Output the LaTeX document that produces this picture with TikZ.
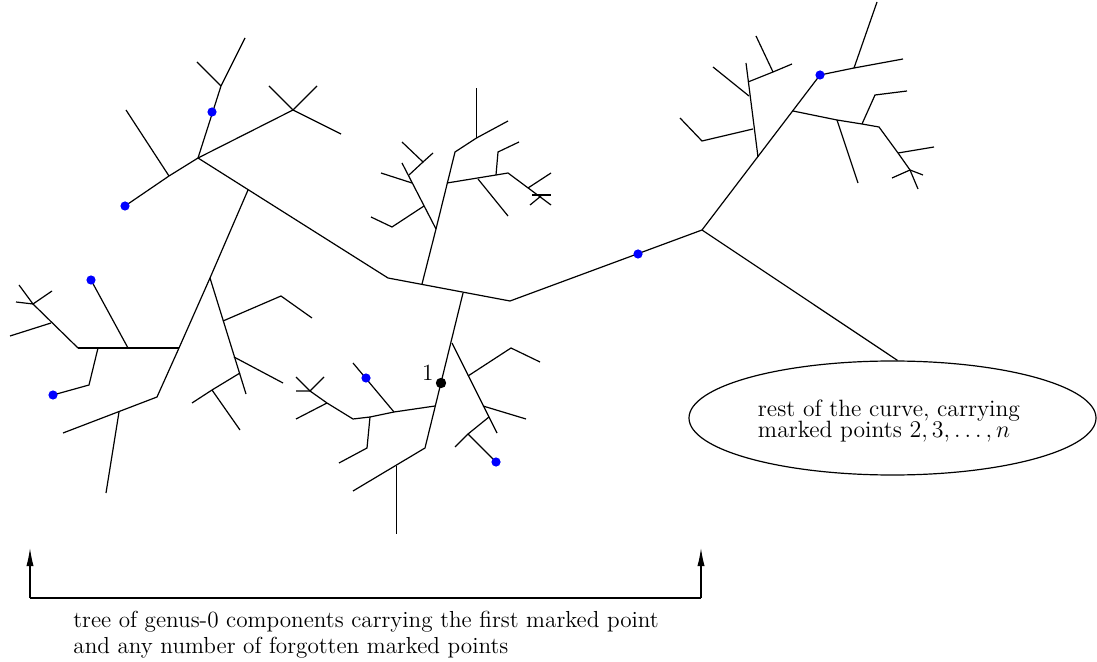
\documentclass[tikz,border=0pt]{standalone}
\usetikzlibrary{shapes.geometric,arrows.meta}
\begin{document}
\begin{tikzpicture}[x=0.5pt,y=-0.5pt,
  branch/.style={line width=0.6pt,line join=miter},
  forgotten/.style={circle,fill=blue,inner sep=0pt,minimum size=4.6pt},
  firstpt/.style={circle,fill=black,inner sep=0pt,minimum size=5.2pt},
  caption/.style={font=\fontsize{11.6}{13}\selectfont,inner sep=0pt},
  bracket/.style={line width=0.6pt,-{Latex[length=9pt,width=3.6pt]}}]
\useasboundingbox (0,0) rectangle (1097,662);

% ---------- spine of the tree ----------
\coordinate (A) at (198,158);
\coordinate (M1) at (388,278);
\coordinate (M2) at (510,301);
\coordinate (R) at (702,230);
\draw[branch] (A) -- (M1) -- (M2) -- (R);

% ---------- upper left cluster ----------
\draw[branch] (A) -- (221,86) -- (245,38);
\draw[branch] (221,86) -- (197,62);
\draw[branch] (A) -- (169,176) -- (125,206);
\draw[branch] (169,176) -- (126,110);
\draw[branch] (A) -- (293,110);
\draw[branch] (269,86) -- (293,110) -- (317,86);
\draw[branch] (293,110) -- (341,134);

% ---------- left cluster ----------
\draw[branch] (248,190) -- (210,278) -- (179,348) -- (157,397) -- (63,433);
\draw[branch] (119,412) -- (106,493);
\draw[branch] (78,348) -- (179,348);
\draw[branch] (128,348) -- (91,280);
\draw[branch] (98,348) -- (89,385) -- (53,395);
\draw[branch] (78,348) -- (33,304) -- (19,285);
\draw[branch] (51,323) -- (10,336);
\draw[branch] (16,302) -- (33,304) -- (52,291);
\draw[branch] (210,278) -- (246,394);
\draw[branch] (223,321) -- (281,296) -- (312,318);
\draw[branch] (234,357) -- (283,383);
\draw[branch] (240,373) -- (212,390) -- (192,403);
\draw[branch] (212,390) -- (240,430);

% ---------- upper middle cluster ----------
\draw[branch] (422,284) -- (436,229) -- (402,163);
\draw[branch] (412,183) -- (381,173);
\draw[branch] (409,175) -- (423,162) -- (402,142);
\draw[branch] (423,162) -- (433,153);
\draw[branch] (424,206) -- (392,227) -- (371,217);
\draw[branch] (436,229) -- (455,152) -- (476.5,138) -- (508,121);
\draw[branch] (476.5,138) -- (476.5,88);
\draw[branch] (447,183) -- (496,175) -- (508,173) -- (551,205);
\draw[branch] (496,175) -- (498,152) -- (519,142);
\draw[branch] (478,179) -- (508,216);
\draw[branch] (528,188) -- (551,173);
\draw[branch] (532,195) -- (551,195);
\draw[branch] (530,205) -- (541,196);

% ---------- right cluster ----------
\draw[branch] (R) -- (820,75) -- (854,68) -- (903,59);
\draw[branch] (854,68) -- (877,2);
\draw[branch] (793,111) -- (837,120) -- (862,124) -- (879,127) -- (898,153) -- (910,170) -- (918,189);
\draw[branch] (837,120) -- (858,183);
\draw[branch] (862,124) -- (875,95) -- (907,91);
\draw[branch] (898,153) -- (934,147);
\draw[branch] (892,178) -- (910,170) -- (923,175);
\draw[branch] (758,157) -- (746,63);
\draw[branch] (753,129) -- (702,141) -- (680,118);
\draw[branch] (749,96) -- (713,67);
\draw[branch] (748,82) -- (773,72) -- (792,64);
\draw[branch] (773,72) -- (756,36);

% ---------- lower middle cluster ----------
\draw[branch] (463,293) -- (425,448) -- (353,491);
\draw[branch] (396.5,466) -- (396.5,534);
\draw[branch] (435,406) -- (394,412) -- (370,417) -- (353,419) -- (327,403) -- (310,391) -- (296,377);
\draw[branch] (324,377) -- (310,391) -- (296,391);
\draw[branch] (327,403) -- (296,419);
\draw[branch] (394,412) -- (353,363);
\draw[branch] (370,417) -- (367,448) -- (339,463);
\draw[branch] (452,343) -- (497,433);
\draw[branch] (468,376) -- (511,348) -- (540,362);
\draw[branch] (483,406) -- (526,419);
\draw[branch] (489,417) -- (468,434) -- (455,447);
\draw[branch] (468,434) -- (496,462);

% ---------- marked points ----------
\node[forgotten] (p1) at (212,112) {};
\node[forgotten] (p2) at (125,206) {};
\node[forgotten] (p3) at (91,280) {};
\node[forgotten] (p4) at (53,395) {};
\node[forgotten] (p5) at (366,378) {};
\node[forgotten] (p6) at (496,462) {};
\node[forgotten] (p7) at (638,254) {};
\node[forgotten] (p8) at (820,75) {};
\node[firstpt] (first) at (441,383) {};
\node[caption,anchor=base east] (firstlabel) at (434,381) {1};

% ---------- rest of the curve ----------
\node[draw,ellipse,line width=0.6pt,minimum width=203.5pt,minimum height=57pt,inner sep=0pt] (rest) at (892.5,418) {};
\node[caption,align=left,font=\fontsize{11.8}{10.8}\selectfont] (resttext) at (889,421) {rest of the curve, carrying\\marked points $2,3,\ldots,n$};
\draw[branch] (R) -- (rest.85);

% ---------- bracket under the tree ----------
\coordinate (bl) at (30,598);
\coordinate (br) at (701,598);
\coordinate (tl) at (30,548);
\coordinate (tr) at (701,548);
\draw[line width=0.6pt] (bl) -- (br);
\draw[bracket] (bl) -- (tl);
\draw[bracket] (br) -- (tr);
\node[caption,anchor=base west] (cap1) at (73,627) {tree of genus-0 components carrying the first marked point};
\node[caption,anchor=base west] (cap2) at (73,653) {and any number of forgotten marked points};
\end{tikzpicture}
\end{document}
